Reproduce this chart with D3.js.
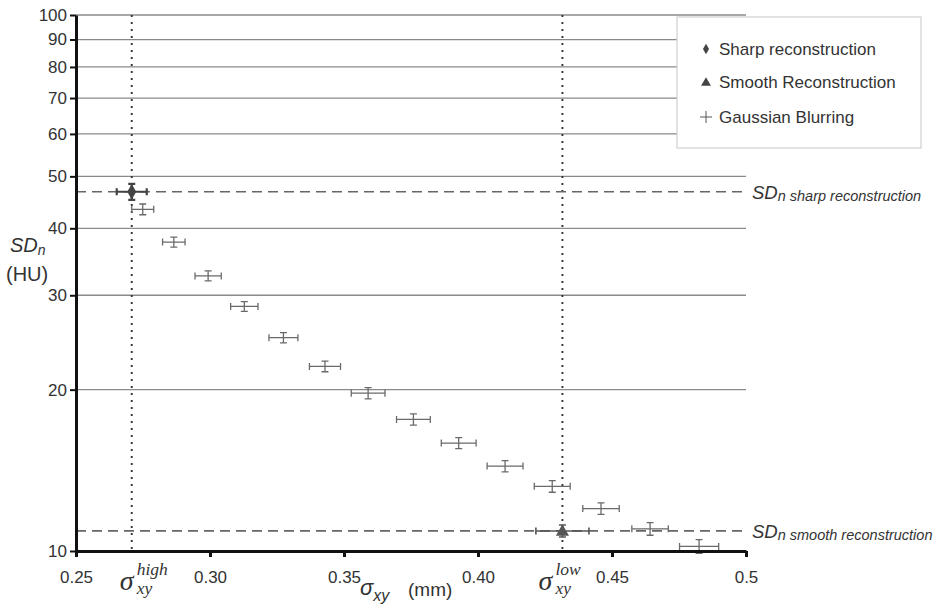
<!DOCTYPE html>
<html>
<head>
<meta charset="utf-8">
<script src="https://cdn.jsdelivr.net/npm/d3@7"></script>
<style>
  body { margin: 0; background: #fff; }
  text { font-family: "Liberation Sans", Arial, sans-serif; fill: #333; }
  .serif { font-family: "Liberation Serif", "Times New Roman", serif; font-style: italic; }
</style>
</head>
<body>
<div id="chart"></div>
<script>
// Gaussian blurring series (sigma_xy in mm, SDn in HU)
var blurX = [0.2749, 0.2865, 0.2993, 0.3128, 0.3274, 0.3429, 0.3590, 0.3759, 0.3928, 0.4101, 0.4277, 0.4459, 0.4642, 0.4825];
var blurY = [43.4, 37.7, 32.6, 28.6, 25.0, 22.1, 19.7, 17.6, 15.9, 14.4, 13.2, 12.0, 11.0, 10.2];
var blurXErr = [0.0041, 0.0042, 0.0049, 0.0051, 0.0054, 0.0058, 0.0063, 0.0063, 0.0065, 0.0067, 0.0067, 0.0068, 0.0068, 0.0073];
var blurYErr = [1.0, 0.8, 0.7, 0.6, 0.55, 0.5, 0.48, 0.42, 0.38, 0.35, 0.33, 0.3, 0.3, 0.3];

// reconstructions
var sharpPoint = { x: 0.2708, y: 46.8, xErr: 0.0056, yErr: 1.6 };
var smoothPoint = { x: 0.4315, y: 10.9, xErr: 0.0099, yErr: 0.28 };

// reference levels
var sharpLevel = 46.8;
var smoothLevel = 10.9;
var sigmaHigh = 0.2708;
var sigmaLow = 0.4315;

// ticks
var yTicks = [10, 20, 30, 40, 50, 60, 70, 80, 90, 100];
var gridTicks = [20, 30, 40, 50, 60, 70, 80, 90, 100];
var xTicks = [0.25, 0.30, 0.35, 0.40, 0.45, 0.5];
var xTickLabels = ["0.25", "0.30", "0.35", "0.40", "0.45", "0.5"];

var legendItems = ["Sharp reconstruction", "Smooth Reconstruction", "Gaussian Blurring"];

var svgWidth = 940;
var svgHeight = 616;
var margin = { top: 15, right: 194, bottom: 65, left: 76 };
var width = svgWidth - margin.left - margin.right;
var height = svgHeight - margin.top - margin.bottom;

var svg = d3.select("#chart")
  .append("svg")
  .attr("width", svgWidth)
  .attr("height", svgHeight);

var g = svg.append("g")
  .attr("transform", `translate(${margin.left}, ${margin.top})`);

var x = d3.scaleLinear().domain([0.25, 0.5]).range([0, width]);
var y = d3.scaleLog().domain([10, 100]).range([height, 0]);

// gridlines
g.selectAll(".grid")
  .data(gridTicks)
  .enter()
  .append("line")
  .attr("x1", 0)
  .attr("x2", width)
  .attr("y1", d => y(d))
  .attr("y2", d => y(d))
  .attr("stroke", "#8a8a8a")
  .attr("stroke-width", 1.3);

// legend box (white, covers the grid)
var legend = svg.append("g").attr("transform", "translate(678, 17)");
legend.append("rect")
  .attr("x", -1)
  .attr("y", 0)
  .attr("width", 244)
  .attr("height", 131)
  .attr("fill", "#fff")
  .attr("stroke", "#cfcfcf")
  .attr("stroke-width", 1.2);

var legendRows = [32, 65, 100];
legendItems.forEach(function(label, i) {
  legend.append("text")
    .attr("x", 41)
    .attr("y", legendRows[i] + 6)
    .style("font-size", "17px")
    .text(label);
});
legend.append("path")
  .attr("transform", `translate(28, ${legendRows[0]})`)
  .attr("d", d3.symbol().type(d3.symbolDiamond).size(32)())
  .attr("fill", "#444");
legend.append("path")
  .attr("transform", `translate(28, ${legendRows[1] + 1})`)
  .attr("d", d3.symbol().type(d3.symbolTriangle).size(42)())
  .attr("fill", "#444");
legend.append("path")
  .attr("d", `M22,${legendRows[2]}H34M28,${legendRows[2] - 6}V${legendRows[2] + 6}`)
  .attr("stroke", "#555")
  .attr("stroke-width", 1);

// vertical dotted lines
g.selectAll(".vline")
  .data([sigmaHigh, sigmaLow])
  .enter()
  .append("line")
  .attr("x1", d => x(d))
  .attr("x2", d => x(d))
  .attr("y1", y(100))
  .attr("y2", y(10))
  .attr("stroke", "#333")
  .attr("stroke-width", 1.9)
  .attr("stroke-dasharray", "2,5");

// horizontal dashed reference lines
g.selectAll(".hline")
  .data([sharpLevel, smoothLevel])
  .enter()
  .append("line")
  .attr("x1", 0)
  .attr("x2", width)
  .attr("y1", d => y(d))
  .attr("y2", d => y(d))
  .attr("stroke", "#666")
  .attr("stroke-width", 1.7)
  .attr("stroke-dasharray", "10,6");

// error bar helper
function errorBar(px, py, ex, ey, color, sw) {
  var cx = x(px), cy = y(py);
  var x0 = x(px - ex), x1 = x(px + ex);
  var y0 = y(py + ey), y1 = y(py - ey);
  var path = `M${x0},${cy}H${x1}` +
    `M${x0},${cy - 3.5}V${cy + 3.5}M${x1},${cy - 3.5}V${cy + 3.5}` +
    `M${cx},${y0}V${y1}` +
    `M${cx - 3.5},${y0}H${cx + 3.5}M${cx - 3.5},${y1}H${cx + 3.5}`;
  g.append("path")
    .attr("d", path)
    .attr("fill", "none")
    .attr("stroke", color)
    .attr("stroke-width", sw);
}

blurX.forEach(function(d, i) {
  errorBar(d, blurY[i], blurXErr[i], blurYErr[i], "#6a6a6a", 1.3);
});

errorBar(sharpPoint.x, sharpPoint.y, sharpPoint.xErr, sharpPoint.yErr, "#444", 2.2);
g.append("path")
  .attr("transform", `translate(${x(sharpPoint.x)}, ${y(sharpPoint.y)})`)
  .attr("d", d3.symbol().type(d3.symbolDiamond).size(70)())
  .attr("fill", "#444");

errorBar(smoothPoint.x, smoothPoint.y, smoothPoint.xErr, smoothPoint.yErr, "#555", 1.6);
g.append("path")
  .attr("transform", `translate(${x(smoothPoint.x)}, ${y(smoothPoint.y) + 1})`)
  .attr("d", d3.symbol().type(d3.symbolTriangle).size(75)())
  .attr("fill", "#555");

// axes
var leftAxis = d3.axisLeft(y)
  .tickValues(yTicks)
  .tickFormat(d3.format("d"))
  .tickSize(6)
  .tickSizeOuter(0)
  .tickPadding(3);

var bottomAxis = d3.axisBottom(x)
  .tickValues(xTicks)
  .tickFormat((d, i) => xTickLabels[i])
  .tickSize(6)
  .tickSizeOuter(0)
  .tickPadding(14);

var yAxisG = g.append("g").call(leftAxis);
var xAxisG = g.append("g")
  .attr("transform", `translate(0, ${height})`)
  .call(bottomAxis);

[yAxisG, xAxisG].forEach(function(a) {
  a.select(".domain").attr("stroke", "#111").attr("stroke-width", 3);
  a.selectAll("text")
    .style("font-size", "17px")
    .style("font-family", "'Liberation Sans', Arial, sans-serif")
    .attr("fill", "#333");
});
yAxisG.selectAll(".tick line").attr("stroke", "#111").attr("stroke-width", 2);
xAxisG.selectAll(".tick line").attr("stroke", "#111").attr("stroke-width", 3);

// y axis title
svg.append("text")
  .attr("x", 10)
  .attr("y", 252)
  .call(t => {
    t.append("tspan").style("font-size", "20px").style("font-style", "italic").text("SD");
    t.append("tspan").style("font-size", "14px").style("font-style", "italic").attr("dy", 3).text("n");
  });
svg.append("text")
  .attr("x", 6)
  .attr("y", 281)
  .style("font-size", "20px")
  .text("(HU)");

// x axis title
svg.append("text")
  .attr("x", 360)
  .attr("y", 595)
  .call(t => {
    t.append("tspan").style("font-size", "22px").style("font-style", "italic").text("σ");
    t.append("tspan").style("font-size", "16px").style("font-style", "italic").attr("dy", 6).text("xy");
    t.append("tspan").style("font-size", "19px").attr("x", 408).attr("y", 596).text("(mm)");
  });

// sigma annotations under the axis (sub and superscript stacked)
function sigmaLabel(xPos, sup) {
  var base = margin.left + xPos;
  svg.append("text").attr("class", "serif")
    .attr("x", base).attr("y", 590)
    .call(t => {
      t.append("tspan").style("font-size", "28px").text("σ");
      t.append("tspan").style("font-size", "17.5px")
        .attr("x", base + 17).attr("y", 575).text(sup);
      t.append("tspan").style("font-size", "17.5px")
        .attr("x", base + 17).attr("y", 594).text("xy");
    });
}
sigmaLabel(x(sigmaHigh) - 12, "high");
sigmaLabel(x(sigmaLow) - 24, "low");

// right-hand labels for dashed lines
function levelLabel(level, sub) {
  svg.append("text")
    .attr("x", margin.left + width + 6)
    .attr("y", margin.top + y(level) + 7)
    .style("font-style", "italic")
    .call(t => {
      t.append("tspan").style("font-size", "18.5px").text("SD");
      t.append("tspan").style("font-size", "14.5px").attr("dy", 2).text(sub);
    });
}
levelLabel(sharpLevel, "n sharp reconstruction");
levelLabel(smoothLevel, "n smooth reconstruction");
</script>
</body>
</html>
